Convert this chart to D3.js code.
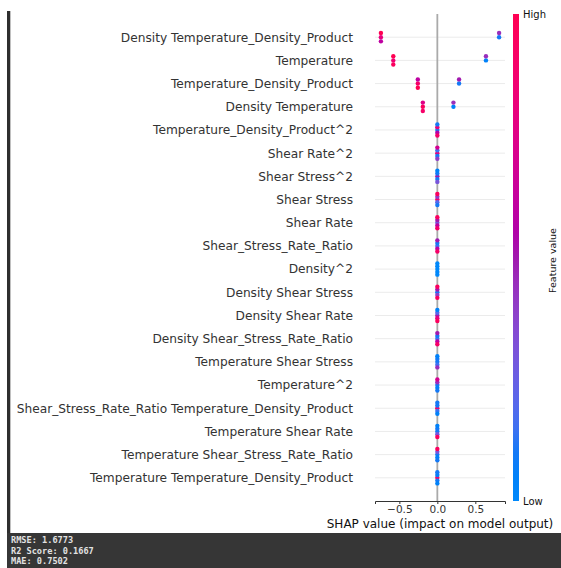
<!DOCTYPE html>
<html>
<head>
<meta charset="utf-8">
<script src="https://cdn.jsdelivr.net/npm/d3@7"></script>
<style>
  html, body { margin: 0; padding: 0; background: #fff; }
  svg { display: block; }
</style>
</head>
<body>
<svg id="chart" width="561" height="568"></svg>
<script>
// Features, listed top to bottom (most important first)
const features = [
  "Density Temperature_Density_Product",
  "Temperature",
  "Temperature_Density_Product",
  "Density Temperature",
  "Temperature_Density_Product^2",
  "Shear Rate^2",
  "Shear Stress^2",
  "Shear Stress",
  "Shear Rate",
  "Shear_Stress_Rate_Ratio",
  "Density^2",
  "Density Shear Stress",
  "Density Shear Rate",
  "Density Shear_Stress_Rate_Ratio",
  "Temperature Shear Stress",
  "Temperature^2",
  "Shear_Stress_Rate_Ratio Temperature_Density_Product",
  "Temperature Shear Rate",
  "Temperature Shear_Stress_Rate_Ratio",
  "Temperature Temperature_Density_Product"
];

// SHAP value of each of the five samples, per feature
const shapValues = [
  [-0.743, -0.743, 0.813, -0.743, 0.813],
  [-0.58, -0.58, 0.64, -0.58, 0.64],
  [-0.257, -0.257, 0.286, -0.257, 0.286],
  [-0.191, -0.191, 0.212, -0.191, 0.212],
  [0, 0, 0, 0, 0],
  [0, 0, 0, 0, 0],
  [0, 0, 0, 0, 0],
  [0, 0, 0, 0, 0],
  [0, 0, 0, 0, 0],
  [0, 0, 0, 0, 0],
  [0, 0, 0, 0, 0],
  [0, 0, 0, 0, 0],
  [0, 0, 0, 0, 0],
  [0, 0, 0, 0, 0],
  [0, 0, 0, 0, 0],
  [0, 0, 0, 0, 0],
  [0, 0, 0, 0, 0],
  [0, 0, 0, 0, 0],
  [0, 0, 0, 0, 0],
  [0, 0, 0, 0, 0]
];

// Normalised feature value (0 = low, 1 = high) of each sample, per feature
const featureValues = [
  [0.8, 1.0, 0.1, 0.6, 0.45],
  [0.85, 1.0, 0.05, 0.95, 0.45],
  [0.9, 0.6, 0.1, 1.0, 0.5],
  [0.95, 0.75, 0.05, 0.9, 0.45],
  [0.1, 0.8, 0.55, 0.1, 0.9],
  [0.8, 0.15, 0.1, 0.7, 0.4],
  [0.5, 0.1, 0.1, 0.05, 0.3],
  [0.9, 0.4, 0.2, 0.95, 0.1],
  [0.3, 0.5, 0.6, 0.95, 0.9],
  [0.15, 0.1, 0.6, 0.5, 0.9],
  [0, 0, 0, 0, 0],
  [0.1, 0.5, 0.4, 0.95, 0.95],
  [0.5, 0.2, 0.8, 0.05, 0.95],
  [0.15, 0.1, 0.6, 0.5, 0.9],
  [0.1, 0.1, 0.15, 0.05, 0.45],
  [0.1, 0.45, 0.05, 0.7, 0.1],
  [0.9, 0.1, 0.15, 0.1, 0.05],
  [0.1, 0.1, 0.3, 0.05, 0.95],
  [0.1, 0.3, 0.05, 0.95, 0.1],
  [0.9, 0.05, 0.1, 0.1, 0.05]
];

const xTicks = [-0.5, 0, 0.5];
const colorbarLabels = ["Low", "High"];
const xTitle = "SHAP value (impact on model output)";
const colorbarTitle = "Feature value";
const metricLines = ["RMSE: 1.6773", "R2 Score: 0.1667", "MAE: 0.7502"];

// ---- layout ----
const svg = d3.select("#chart");
const W = 561, H = 568;
const plot = { left: 375, right: 505, top: 14, bottom: 501 };
const rowHeight = 0.4;
const axisColor = "#333333";
const textFont = "'DejaVu Sans', Verdana, sans-serif";

// red-blue colour map built in LCh space, lightness dipping through the middle
const blueLch = [54, 70, 4.6588];
const redLch = [54, 90, 0.35470565 + 2 * Math.PI];
const lMid = 40;
function shapColor(t) {
  t = Math.max(0, Math.min(1, t));
  const l = t < 0.5 ? blueLch[0] + (lMid - blueLch[0]) * t * 2
                    : lMid + (redLch[0] - lMid) * (t - 0.5) * 2;
  const c = blueLch[1] + (redLch[1] - blueLch[1]) * t;
  const h = (blueLch[2] + (redLch[2] - blueLch[2]) * t) * 180 / Math.PI;
  return d3.rgb(d3.hcl(h, c, l)).formatRgb();
}

// frame decorations
svg.append("rect").attr("x", 0).attr("y", 0).attr("width", W).attr("height", H).attr("fill", "#fff");
svg.append("rect").attr("x", 7).attr("y", 11).attr("width", 3.3).attr("height", 533 - 11).attr("fill", "#2e2e2e");
svg.append("rect").attr("x", 7).attr("y", 533).attr("width", W - 7).attr("height", H - 533).attr("fill", "#363636");

// scales
const allShap = shapValues.flat();
const [lo, hi] = d3.extent(allShap);
const pad = (hi - lo) * 0.05;
const x = d3.scaleLinear().domain([lo - pad, hi + pad]).range([plot.left, plot.right]);
const n = features.length;
const y = d3.scaleLinear().domain([-1, n]).range([plot.bottom, plot.top]);
const rowPos = i => n - 1 - i;

// horizontal guide lines per row
svg.append("g").selectAll("line").data(features).join("line")
  .attr("x1", plot.left).attr("x2", plot.right)
  .attr("y1", (d, i) => y(rowPos(i))).attr("y2", (d, i) => y(rowPos(i)))
  .attr("stroke", "#ebebeb").attr("stroke-width", 1);

// zero line
svg.append("line")
  .attr("x1", x(0)).attr("x2", x(0))
  .attr("y1", plot.top).attr("y2", plot.bottom)
  .attr("stroke", "#aaaaaa").attr("stroke-width", 1.8);

// beeswarm vertical offsets (quantised bins, alternating layers)
function swarm(vals) {
  const m = vals.length;
  const vmin = d3.min(vals), vmax = d3.max(vals);
  const quant = vals.map(v => Math.round(100 * (v - vmin) / (vmax - vmin + 1e-8)));
  const order = d3.range(m).sort((a, b) => (quant[a] - quant[b]) || (a - b));
  const ys = new Array(m).fill(0);
  let layer = 0, last = -1;
  for (const k of order) {
    if (quant[k] !== last) layer = 0;
    ys[k] = Math.ceil(layer / 2) * ((layer % 2) * 2 - 1);
    layer++;
    last = quant[k];
  }
  const top = d3.max(ys, v => v + 1);
  return ys.map(v => v * 0.9 * (rowHeight / top));
}

// points
const gPts = svg.append("g");
features.forEach((f, i) => {
  const vals = shapValues[i];
  const offs = swarm(vals);
  const pts = vals.map((v, k) => ({ v, off: offs[k], fv: featureValues[i][k] }));
  gPts.append("g").selectAll("circle").data(pts).join("circle")
    .attr("cx", d => x(d.v))
    .attr("cy", d => y(rowPos(i) + d.off))
    .attr("r", 2.2)
    .attr("fill", d => shapColor(d.fv));
});

// feature labels
svg.append("g").selectAll("text").data(features).join("text")
  .attr("x", 353)
  .attr("y", (d, i) => y(rowPos(i)))
  .attr("dy", "0.36em")
  .attr("text-anchor", "end")
  .attr("font-family", textFont)
  .attr("font-size", 12.2)
  .attr("fill", axisColor)
  .text(d => d);

// x axis
const xAxis = d3.axisBottom(x).tickValues(xTicks).tickFormat(d3.format(".1f"))
  .tickSizeOuter(0).tickSize(3).tickPadding(2);
const gx = svg.append("g").attr("transform", `translate(0,${plot.bottom})`).call(xAxis);
gx.select(".domain").attr("stroke", axisColor).attr("stroke-width", 1);
gx.selectAll(".tick line").attr("stroke", axisColor);
gx.selectAll(".tick text").attr("font-family", textFont).attr("font-size", 10.5).attr("fill", axisColor);

svg.append("text")
  .attr("x", (plot.left + plot.right) / 2)
  .attr("y", 527.5)
  .attr("text-anchor", "middle")
  .attr("font-family", textFont)
  .attr("font-size", 12)
  .attr("fill", "#111")
  .text(xTitle);

// colour bar
const cb = { x: 513, w: 6, top: plot.top, bottom: plot.bottom };
const grad = svg.append("defs").append("linearGradient")
  .attr("id", "cbgrad").attr("x1", 0).attr("x2", 0).attr("y1", 1).attr("y2", 0);
d3.range(0, 1.0001, 0.05).forEach(t => {
  grad.append("stop").attr("offset", t).attr("stop-color", shapColor(t));
});
svg.append("rect")
  .attr("x", cb.x).attr("y", cb.top)
  .attr("width", cb.w).attr("height", cb.bottom - cb.top)
  .attr("fill", "url(#cbgrad)");

const cbScale = d3.scaleLinear().domain([0, 1]).range([cb.bottom, cb.top]);
svg.append("g").selectAll("text").data(colorbarLabels).join("text")
  .attr("x", cb.x + cb.w + 4)
  .attr("y", (d, i) => cbScale(i))
  .attr("dy", "0.36em")
  .attr("font-family", textFont)
  .attr("font-size", 10)
  .attr("fill", "#111")
  .text(d => d);

svg.append("text")
  .attr("transform", `translate(556,${(cb.top + cb.bottom) / 2 + 3}) rotate(-90)`)
  .attr("text-anchor", "middle")
  .attr("font-family", textFont)
  .attr("font-size", 9.5)
  .attr("fill", "#111")
  .text(colorbarTitle);

// metrics printed beneath the chart
svg.append("g").selectAll("text").data(metricLines).join("text")
  .attr("x", 11)
  .attr("y", (d, i) => 543 + i * 10.6)
  .attr("font-family", "'DejaVu Sans Mono', 'Liberation Mono', monospace")
  .attr("font-weight", "bold")
  .attr("font-size", 8.6)
  .attr("fill", "#e2e2e2")
  .text(d => d);
</script>
</body>
</html>
